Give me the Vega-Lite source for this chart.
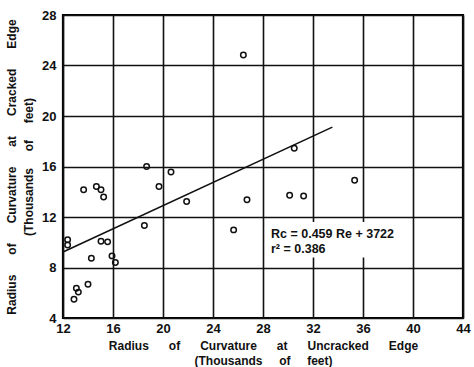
{
  "$schema": "https://vega.github.io/schema/vega-lite/v6.json",
  "width": 400,
  "height": 303,
  "autosize": {"type": "none"},
  "padding": {"left": 63, "top": 15, "right": 11, "bottom": 49},
  "background": "white",
  "config": {
    "view": {"stroke": "black", "strokeWidth": 2.2},
    "font": "Liberation Sans",
    "axis": {
      "grid": true,
      "gridColor": "#111",
      "gridWidth": 1.6,
      "gridOpacity": 1,
      "domain": false,
      "ticks": false,
      "labelFont": "Liberation Sans",
      "labelFontWeight": "bold",
      "labelFontSize": 13,
      "labelColor": "#111",
      "titleFont": "Liberation Sans",
      "titleFontWeight": "bold",
      "titleColor": "#111"
    }
  },
  "datasets": {
    "pts": [
      {"ru": 26.43, "rc": 24.83},
      {"ru": 30.5, "rc": 17.45},
      {"ru": 18.69, "rc": 16.0},
      {"ru": 20.64, "rc": 15.57},
      {"ru": 19.68, "rc": 14.41},
      {"ru": 13.65, "rc": 14.15},
      {"ru": 14.67, "rc": 14.41},
      {"ru": 15.04, "rc": 14.15},
      {"ru": 15.25, "rc": 13.59},
      {"ru": 21.89, "rc": 13.22},
      {"ru": 26.72, "rc": 13.36},
      {"ru": 30.13, "rc": 13.73},
      {"ru": 31.25, "rc": 13.67},
      {"ru": 35.33, "rc": 14.91},
      {"ru": 18.51, "rc": 11.32},
      {"ru": 25.65, "rc": 10.98},
      {"ru": 12.37, "rc": 10.19},
      {"ru": 12.37, "rc": 9.79},
      {"ru": 15.04, "rc": 10.08},
      {"ru": 15.57, "rc": 10.03},
      {"ru": 14.27, "rc": 8.74},
      {"ru": 15.92, "rc": 8.92},
      {"ru": 16.19, "rc": 8.4},
      {"ru": 14.0, "rc": 6.68},
      {"ru": 13.07, "rc": 6.36},
      {"ru": 13.23, "rc": 6.05},
      {"ru": 12.88, "rc": 5.49}
    ],
    "fit": [
      {"ru": 12.0, "rc": 9.23},
      {"ru": 33.55, "rc": 19.12}
    ],
    "box": [
      {"x1": 28.3, "x2": 39.6, "y1": 8.8, "y2": 11.6}
    ],
    "notes": [
      {"ru": 28.64, "rc": 10.34, "label": "Rc = 0.459 Re + 3722"},
      {"ru": 28.64, "rc": 9.15, "label": "r² = 0.386"}
    ]
  },
  "layer": [
    {
      "data": {"name": "box"},
      "mark": {"type": "rect", "fill": "white", "stroke": null},
      "encoding": {
        "x": {
          "field": "x1", "type": "quantitative",
          "scale": {"domain": [12, 44], "nice": false, "zero": false},
          "axis": {
            "values": [12, 16, 20, 24, 28, 32, 36, 40, 44],
            "labelPadding": 4,
            "labelFlush": false,
            "title": ["Radius\u00a0\u00a0\u00a0\u00a0\u00a0 of\u00a0\u00a0\u00a0\u00a0\u00a0 Curvature\u00a0\u00a0\u00a0\u00a0\u00a0 at\u00a0\u00a0\u00a0\u00a0\u00a0 Uncracked\u00a0\u00a0\u00a0\u00a0\u00a0 Edge", "(Thousands\u00a0\u00a0\u00a0\u00a0 of\u00a0\u00a0\u00a0\u00a0 feet)"],
            "titleFontSize": 12,
            "titleLineHeight": 15,
            "titlePadding": 5
          }
        },
        "x2": {"field": "x2"},
        "y": {
          "field": "y1", "type": "quantitative",
          "scale": {"domain": [4, 28], "nice": false, "zero": false},
          "axis": {
            "values": [4, 8, 12, 16, 20, 24, 28],
            "labelPadding": 7,
            "labelFlush": false,
            "title": ["Radius\u00a0\u00a0\u00a0\u00a0\u00a0 of\u00a0\u00a0\u00a0\u00a0\u00a0 Curvature\u00a0\u00a0\u00a0\u00a0\u00a0 at\u00a0\u00a0\u00a0\u00a0\u00a0 Cracked\u00a0\u00a0\u00a0\u00a0\u00a0 Edge", "(Thousands\u00a0\u00a0\u00a0\u00a0 of\u00a0\u00a0\u00a0\u00a0 feet)"],
            "titleFontSize": 12,
            "titleLineHeight": 17,
            "titlePadding": 6
          }
        },
        "y2": {"field": "y2"}
      }
    },
    {
      "data": {"name": "fit"},
      "mark": {"type": "line", "color": "#111", "strokeWidth": 1.6},
      "encoding": {
        "x": {"field": "ru", "type": "quantitative"},
        "y": {"field": "rc", "type": "quantitative"}
      }
    },
    {
      "data": {"name": "pts"},
      "mark": {"type": "point", "shape": "circle", "filled": false, "color": "#111", "size": 30, "strokeWidth": 1.5, "opacity": 1},
      "encoding": {
        "x": {"field": "ru", "type": "quantitative"},
        "y": {"field": "rc", "type": "quantitative"}
      }
    },
    {
      "data": {"name": "notes"},
      "mark": {"type": "text", "align": "left", "baseline": "alphabetic", "font": "Liberation Sans", "fontWeight": "bold", "fontSize": 12.5, "color": "#111"},
      "encoding": {
        "x": {"field": "ru", "type": "quantitative"},
        "y": {"field": "rc", "type": "quantitative"},
        "text": {"field": "label"}
      }
    }
  ]
}
